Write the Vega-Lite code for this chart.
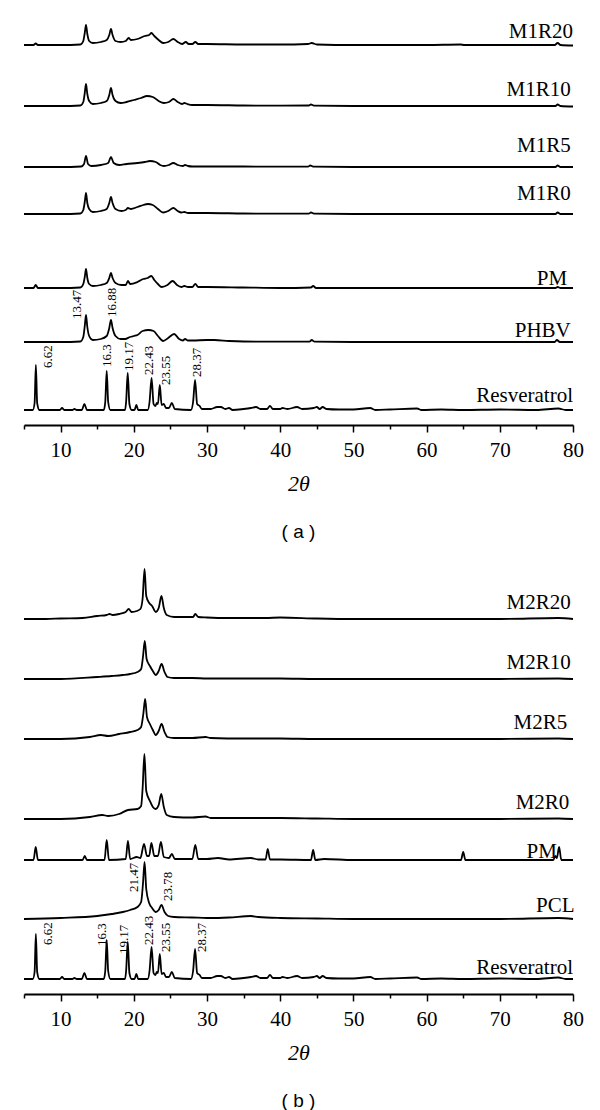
{
  "$schema": "https://vega.github.io/schema/vega-lite/v6.json",
  "padding": {"left": 20, "top": 10, "right": 10, "bottom": 5},
  "spacing": 17,
  "config": {
    "font": "Liberation Serif",
    "view": {"stroke": null},
    "axis": {"grid": false, "domainColor": "black", "tickColor": "black", "labelColor": "black", "titleColor": "black"}
  },
  "datasets": {
    "a": [
      {"s":"M1R20","x":5,"y":380},{"s":"M1R20","x":6.3,"y":380},{"s":"M1R20","x":6.6,"y":381.5},{"s":"M1R20","x":6.9,"y":380},{"s":"M1R20","x":10,"y":380},{"s":"M1R20","x":12.7,"y":380.5},{"s":"M1R20","x":13.1,"y":384},{"s":"M1R20","x":13.3,"y":392},{"s":"M1R20","x":13.47,"y":400},{"s":"M1R20","x":13.65,"y":391},{"s":"M1R20","x":13.9,"y":384},{"s":"M1R20","x":14.4,"y":382},{"s":"M1R20","x":15.5,"y":383},{"s":"M1R20","x":16.3,"y":385},{"s":"M1R20","x":16.65,"y":390},{"s":"M1R20","x":16.88,"y":396},{"s":"M1R20","x":17.1,"y":390},{"s":"M1R20","x":17.5,"y":384},{"s":"M1R20","x":18.2,"y":383},{"s":"M1R20","x":18.9,"y":384},{"s":"M1R20","x":19.3,"y":387},{"s":"M1R20","x":19.6,"y":385},{"s":"M1R20","x":20.5,"y":386},{"s":"M1R20","x":21.5,"y":389},{"s":"M1R20","x":22.1,"y":390},{"s":"M1R20","x":22.4,"y":392},{"s":"M1R20","x":22.8,"y":389},{"s":"M1R20","x":23.4,"y":385},{"s":"M1R20","x":24.0,"y":382},{"s":"M1R20","x":24.7,"y":383},{"s":"M1R20","x":25.4,"y":386},{"s":"M1R20","x":26.0,"y":383},{"s":"M1R20","x":26.6,"y":381},{"s":"M1R20","x":27.1,"y":383},{"s":"M1R20","x":27.5,"y":381},{"s":"M1R20","x":28.0,"y":381},{"s":"M1R20","x":28.4,"y":383},{"s":"M1R20","x":28.8,"y":381},{"s":"M1R20","x":30,"y":381},{"s":"M1R20","x":35,"y":380.5},{"s":"M1R20","x":40,"y":380.5},{"s":"M1R20","x":43.8,"y":381},{"s":"M1R20","x":44.3,"y":382},{"s":"M1R20","x":45,"y":380.5},{"s":"M1R20","x":50,"y":380},{"s":"M1R20","x":55,"y":380},{"s":"M1R20","x":60,"y":380},{"s":"M1R20","x":64.6,"y":380.5},{"s":"M1R20","x":65.2,"y":380},{"s":"M1R20","x":70,"y":380},{"s":"M1R20","x":77.5,"y":380},{"s":"M1R20","x":77.9,"y":382},{"s":"M1R20","x":78.3,"y":380},{"s":"M1R20","x":80,"y":379.5},

      {"s":"M1R10","x":5,"y":319},{"s":"M1R10","x":10,"y":319},{"s":"M1R10","x":12.7,"y":319.5},{"s":"M1R10","x":13.1,"y":323},{"s":"M1R10","x":13.3,"y":332},{"s":"M1R10","x":13.47,"y":341},{"s":"M1R10","x":13.65,"y":331},{"s":"M1R10","x":13.9,"y":324},{"s":"M1R10","x":14.4,"y":321},{"s":"M1R10","x":15.5,"y":322},{"s":"M1R10","x":16.3,"y":324},{"s":"M1R10","x":16.65,"y":330},{"s":"M1R10","x":16.88,"y":337},{"s":"M1R10","x":17.1,"y":330},{"s":"M1R10","x":17.5,"y":324},{"s":"M1R10","x":18.2,"y":322},{"s":"M1R10","x":19,"y":323},{"s":"M1R10","x":20,"y":325},{"s":"M1R10","x":21,"y":327},{"s":"M1R10","x":21.8,"y":329},{"s":"M1R10","x":22.6,"y":328},{"s":"M1R10","x":23.4,"y":324},{"s":"M1R10","x":24.1,"y":322},{"s":"M1R10","x":24.8,"y":323},{"s":"M1R10","x":25.4,"y":326},{"s":"M1R10","x":26.0,"y":323},{"s":"M1R10","x":26.6,"y":321},{"s":"M1R10","x":26.9,"y":322},{"s":"M1R10","x":27.3,"y":321},{"s":"M1R10","x":28,"y":320},{"s":"M1R10","x":30,"y":320},{"s":"M1R10","x":35,"y":319.5},{"s":"M1R10","x":40,"y":319.3},{"s":"M1R10","x":43.9,"y":319.5},{"s":"M1R10","x":44.2,"y":320.5},{"s":"M1R10","x":44.6,"y":319.3},{"s":"M1R10","x":50,"y":319},{"s":"M1R10","x":60,"y":319},{"s":"M1R10","x":70,"y":319},{"s":"M1R10","x":77.6,"y":319},{"s":"M1R10","x":77.9,"y":320.5},{"s":"M1R10","x":78.3,"y":319},{"s":"M1R10","x":80,"y":318.5},

      {"s":"M1R5","x":5,"y":258},{"s":"M1R5","x":10,"y":258},{"s":"M1R5","x":12.8,"y":258.5},{"s":"M1R5","x":13.2,"y":261},{"s":"M1R5","x":13.47,"y":269},{"s":"M1R5","x":13.75,"y":261},{"s":"M1R5","x":14.2,"y":259},{"s":"M1R5","x":15.5,"y":260},{"s":"M1R5","x":16.5,"y":262},{"s":"M1R5","x":16.88,"y":268},{"s":"M1R5","x":17.25,"y":262},{"s":"M1R5","x":18,"y":260},{"s":"M1R5","x":19,"y":261},{"s":"M1R5","x":20.5,"y":262},{"s":"M1R5","x":21.5,"y":263},{"s":"M1R5","x":22.2,"y":264},{"s":"M1R5","x":23,"y":263},{"s":"M1R5","x":23.6,"y":260},{"s":"M1R5","x":24.1,"y":259},{"s":"M1R5","x":24.8,"y":260},{"s":"M1R5","x":25.4,"y":262},{"s":"M1R5","x":26,"y":260},{"s":"M1R5","x":26.7,"y":259},{"s":"M1R5","x":27,"y":260},{"s":"M1R5","x":27.4,"y":259},{"s":"M1R5","x":28,"y":258.5},{"s":"M1R5","x":30,"y":258.5},{"s":"M1R5","x":35,"y":258.5},{"s":"M1R5","x":40,"y":258.3},{"s":"M1R5","x":43.8,"y":258.3},{"s":"M1R5","x":44.1,"y":259.5},{"s":"M1R5","x":44.5,"y":258.3},{"s":"M1R5","x":50,"y":258},{"s":"M1R5","x":60,"y":258},{"s":"M1R5","x":70,"y":258},{"s":"M1R5","x":77.6,"y":258},{"s":"M1R5","x":77.9,"y":259.5},{"s":"M1R5","x":78.3,"y":258},{"s":"M1R5","x":80,"y":258},

      {"s":"M1R0","x":5,"y":211},{"s":"M1R0","x":10,"y":211},{"s":"M1R0","x":12.7,"y":211.5},{"s":"M1R0","x":13.1,"y":215},{"s":"M1R0","x":13.3,"y":223},{"s":"M1R0","x":13.47,"y":232},{"s":"M1R0","x":13.65,"y":222},{"s":"M1R0","x":13.9,"y":216},{"s":"M1R0","x":14.4,"y":213},{"s":"M1R0","x":15.5,"y":214},{"s":"M1R0","x":16.3,"y":216},{"s":"M1R0","x":16.65,"y":222},{"s":"M1R0","x":16.88,"y":228},{"s":"M1R0","x":17.1,"y":222},{"s":"M1R0","x":17.5,"y":216},{"s":"M1R0","x":18.3,"y":214},{"s":"M1R0","x":18.9,"y":215},{"s":"M1R0","x":19.2,"y":217},{"s":"M1R0","x":19.6,"y":216},{"s":"M1R0","x":20.5,"y":218},{"s":"M1R0","x":21.3,"y":220},{"s":"M1R0","x":21.9,"y":221},{"s":"M1R0","x":22.6,"y":220},{"s":"M1R0","x":23.3,"y":216},{"s":"M1R0","x":24.0,"y":212.5},{"s":"M1R0","x":24.7,"y":214},{"s":"M1R0","x":25.4,"y":217},{"s":"M1R0","x":26,"y":214},{"s":"M1R0","x":26.5,"y":212.5},{"s":"M1R0","x":26.9,"y":213},{"s":"M1R0","x":27.4,"y":212},{"s":"M1R0","x":28,"y":212},{"s":"M1R0","x":30,"y":212},{"s":"M1R0","x":35,"y":211.5},{"s":"M1R0","x":40,"y":211.3},{"s":"M1R0","x":43.9,"y":211.3},{"s":"M1R0","x":44.2,"y":212.5},{"s":"M1R0","x":44.6,"y":211.3},{"s":"M1R0","x":50,"y":211},{"s":"M1R0","x":60,"y":211},{"s":"M1R0","x":70,"y":211},{"s":"M1R0","x":77.6,"y":211},{"s":"M1R0","x":77.9,"y":212.5},{"s":"M1R0","x":78.3,"y":211},{"s":"M1R0","x":80,"y":211},

      {"s":"PM","x":5,"y":137},{"s":"PM","x":6.3,"y":137},{"s":"PM","x":6.6,"y":140},{"s":"PM","x":6.9,"y":137},{"s":"PM","x":10,"y":137},{"s":"PM","x":12.7,"y":137.5},{"s":"PM","x":13.1,"y":141},{"s":"PM","x":13.3,"y":148},{"s":"PM","x":13.47,"y":156},{"s":"PM","x":13.65,"y":147},{"s":"PM","x":13.9,"y":141},{"s":"PM","x":14.4,"y":139},{"s":"PM","x":15.5,"y":140},{"s":"PM","x":16.3,"y":142},{"s":"PM","x":16.65,"y":147},{"s":"PM","x":16.88,"y":152},{"s":"PM","x":17.1,"y":147},{"s":"PM","x":17.5,"y":142},{"s":"PM","x":18.3,"y":140},{"s":"PM","x":18.9,"y":140},{"s":"PM","x":19.2,"y":144},{"s":"PM","x":19.5,"y":141},{"s":"PM","x":20.5,"y":143},{"s":"PM","x":21.3,"y":146},{"s":"PM","x":21.9,"y":147},{"s":"PM","x":22.4,"y":149},{"s":"PM","x":22.8,"y":145},{"s":"PM","x":23.3,"y":141},{"s":"PM","x":23.8,"y":138},{"s":"PM","x":24.6,"y":140},{"s":"PM","x":25.3,"y":144},{"s":"PM","x":25.9,"y":140},{"s":"PM","x":26.5,"y":138},{"s":"PM","x":26.9,"y":139},{"s":"PM","x":27.4,"y":138},{"s":"PM","x":28.0,"y":138},{"s":"PM","x":28.4,"y":141},{"s":"PM","x":28.8,"y":138},{"s":"PM","x":30,"y":138},{"s":"PM","x":35,"y":137.5},{"s":"PM","x":40,"y":137},{"s":"PM","x":44.2,"y":137.5},{"s":"PM","x":44.5,"y":139},{"s":"PM","x":44.9,"y":137},{"s":"PM","x":50,"y":137},{"s":"PM","x":60,"y":137},{"s":"PM","x":70,"y":137},{"s":"PM","x":77.6,"y":137},{"s":"PM","x":77.9,"y":138},{"s":"PM","x":78.3,"y":137},{"s":"PM","x":80,"y":137},

      {"s":"PHBV","x":5,"y":83},{"s":"PHBV","x":10,"y":83},{"s":"PHBV","x":12.7,"y":83.5},{"s":"PHBV","x":13.1,"y":88},{"s":"PHBV","x":13.3,"y":99},{"s":"PHBV","x":13.47,"y":110},{"s":"PHBV","x":13.65,"y":98},{"s":"PHBV","x":13.9,"y":89},{"s":"PHBV","x":14.4,"y":85},{"s":"PHBV","x":15.5,"y":86},{"s":"PHBV","x":16.3,"y":89},{"s":"PHBV","x":16.65,"y":97},{"s":"PHBV","x":16.88,"y":105},{"s":"PHBV","x":17.1,"y":97},{"s":"PHBV","x":17.5,"y":89},{"s":"PHBV","x":18.2,"y":86},{"s":"PHBV","x":18.8,"y":86},{"s":"PHBV","x":19.5,"y":88},{"s":"PHBV","x":20.0,"y":89},{"s":"PHBV","x":20.5,"y":90},{"s":"PHBV","x":21.2,"y":94},{"s":"PHBV","x":22,"y":95},{"s":"PHBV","x":22.7,"y":94},{"s":"PHBV","x":23.3,"y":89},{"s":"PHBV","x":24.0,"y":84},{"s":"PHBV","x":24.7,"y":87},{"s":"PHBV","x":25.5,"y":91},{"s":"PHBV","x":26.2,"y":86},{"s":"PHBV","x":26.7,"y":84.5},{"s":"PHBV","x":27,"y":86},{"s":"PHBV","x":27.4,"y":84.5},{"s":"PHBV","x":28,"y":84.5},{"s":"PHBV","x":30,"y":85},{"s":"PHBV","x":31,"y":85},{"s":"PHBV","x":33,"y":84},{"s":"PHBV","x":35,"y":83.5},{"s":"PHBV","x":40,"y":83.3},{"s":"PHBV","x":44,"y":83.3},{"s":"PHBV","x":44.3,"y":85},{"s":"PHBV","x":44.7,"y":83.3},{"s":"PHBV","x":50,"y":83},{"s":"PHBV","x":60,"y":83},{"s":"PHBV","x":70,"y":83},{"s":"PHBV","x":77.5,"y":83},{"s":"PHBV","x":77.8,"y":85},{"s":"PHBV","x":78.2,"y":83},{"s":"PHBV","x":80,"y":83}
    ],
    "b": [
      {"s":"M2R20","x":5,"y":375},{"s":"M2R20","x":8,"y":375},{"s":"M2R20","x":10,"y":375.5},{"s":"M2R20","x":13,"y":376},{"s":"M2R20","x":15,"y":378},{"s":"M2R20","x":16.3,"y":379},{"s":"M2R20","x":16.7,"y":380},{"s":"M2R20","x":17.1,"y":379},{"s":"M2R20","x":18,"y":380},{"s":"M2R20","x":18.9,"y":382},{"s":"M2R20","x":19.3,"y":385},{"s":"M2R20","x":19.7,"y":382},{"s":"M2R20","x":20.4,"y":383},{"s":"M2R20","x":20.9,"y":385},{"s":"M2R20","x":21.2,"y":395},{"s":"M2R20","x":21.47,"y":425},{"s":"M2R20","x":21.7,"y":398},{"s":"M2R20","x":22.1,"y":391},{"s":"M2R20","x":22.5,"y":388},{"s":"M2R20","x":23.0,"y":382},{"s":"M2R20","x":23.4,"y":386},{"s":"M2R20","x":23.78,"y":398},{"s":"M2R20","x":24.1,"y":386},{"s":"M2R20","x":24.5,"y":379},{"s":"M2R20","x":25.5,"y":377},{"s":"M2R20","x":27,"y":377},{"s":"M2R20","x":28.1,"y":377},{"s":"M2R20","x":28.4,"y":380},{"s":"M2R20","x":28.8,"y":377},{"s":"M2R20","x":30,"y":376.5},{"s":"M2R20","x":33,"y":376},{"s":"M2R20","x":38,"y":376},{"s":"M2R20","x":40,"y":376.5},{"s":"M2R20","x":45,"y":375.5},{"s":"M2R20","x":50,"y":375},{"s":"M2R20","x":60,"y":375},{"s":"M2R20","x":70,"y":375},{"s":"M2R20","x":78,"y":376},{"s":"M2R20","x":80,"y":375},

      {"s":"M2R10","x":5,"y":315},{"s":"M2R10","x":10,"y":315},{"s":"M2R10","x":15,"y":317},{"s":"M2R10","x":17,"y":318},{"s":"M2R10","x":18.5,"y":319},{"s":"M2R10","x":19.5,"y":320},{"s":"M2R10","x":20.5,"y":322},{"s":"M2R10","x":21.0,"y":325},{"s":"M2R10","x":21.25,"y":337},{"s":"M2R10","x":21.5,"y":353},{"s":"M2R10","x":21.75,"y":335},{"s":"M2R10","x":22.2,"y":328},{"s":"M2R10","x":22.6,"y":323},{"s":"M2R10","x":23.0,"y":319},{"s":"M2R10","x":23.4,"y":323},{"s":"M2R10","x":23.8,"y":330},{"s":"M2R10","x":24.2,"y":322},{"s":"M2R10","x":24.6,"y":317},{"s":"M2R10","x":25.5,"y":316},{"s":"M2R10","x":28,"y":316},{"s":"M2R10","x":30,"y":315.5},{"s":"M2R10","x":35,"y":315.5},{"s":"M2R10","x":40,"y":315.5},{"s":"M2R10","x":45,"y":315},{"s":"M2R10","x":60,"y":315},{"s":"M2R10","x":70,"y":315},{"s":"M2R10","x":78,"y":315.5},{"s":"M2R10","x":80,"y":315},

      {"s":"M2R5","x":5,"y":255},{"s":"M2R5","x":10,"y":255},{"s":"M2R5","x":14,"y":257},{"s":"M2R5","x":15.5,"y":259},{"s":"M2R5","x":16.5,"y":258},{"s":"M2R5","x":18,"y":260},{"s":"M2R5","x":19.5,"y":262},{"s":"M2R5","x":20.5,"y":264},{"s":"M2R5","x":21.0,"y":267},{"s":"M2R5","x":21.3,"y":280},{"s":"M2R5","x":21.55,"y":295},{"s":"M2R5","x":21.8,"y":277},{"s":"M2R5","x":22.2,"y":270},{"s":"M2R5","x":22.6,"y":264},{"s":"M2R5","x":23.0,"y":259},{"s":"M2R5","x":23.4,"y":263},{"s":"M2R5","x":23.8,"y":270},{"s":"M2R5","x":24.2,"y":262},{"s":"M2R5","x":24.6,"y":257},{"s":"M2R5","x":25.5,"y":256},{"s":"M2R5","x":28,"y":256},{"s":"M2R5","x":29.8,"y":257},{"s":"M2R5","x":30.5,"y":256},{"s":"M2R5","x":35,"y":255.5},{"s":"M2R5","x":40,"y":255.5},{"s":"M2R5","x":45,"y":255},{"s":"M2R5","x":60,"y":255},{"s":"M2R5","x":70,"y":255},{"s":"M2R5","x":78,"y":255.5},{"s":"M2R5","x":80,"y":255},

      {"s":"M2R0","x":5,"y":175},{"s":"M2R0","x":10,"y":175},{"s":"M2R0","x":14,"y":177},{"s":"M2R0","x":15.7,"y":179},{"s":"M2R0","x":16.5,"y":178},{"s":"M2R0","x":18,"y":180},{"s":"M2R0","x":19.2,"y":184},{"s":"M2R0","x":20.5,"y":185},{"s":"M2R0","x":21.0,"y":188},{"s":"M2R0","x":21.2,"y":205},{"s":"M2R0","x":21.45,"y":240},{"s":"M2R0","x":21.7,"y":203},{"s":"M2R0","x":22.2,"y":193},{"s":"M2R0","x":22.6,"y":187},{"s":"M2R0","x":23.0,"y":185},{"s":"M2R0","x":23.4,"y":189},{"s":"M2R0","x":23.75,"y":200},{"s":"M2R0","x":24.1,"y":187},{"s":"M2R0","x":24.5,"y":179},{"s":"M2R0","x":25.5,"y":177},{"s":"M2R0","x":28,"y":176.5},{"s":"M2R0","x":29.8,"y":177.5},{"s":"M2R0","x":30.5,"y":176},{"s":"M2R0","x":35,"y":176},{"s":"M2R0","x":40,"y":176},{"s":"M2R0","x":45,"y":175.5},{"s":"M2R0","x":50,"y":175},{"s":"M2R0","x":60,"y":175},{"s":"M2R0","x":70,"y":175},{"s":"M2R0","x":78,"y":175.5},{"s":"M2R0","x":80,"y":175},

      {"s":"PM","x":5,"y":134},{"s":"PM","x":6.3,"y":134},{"s":"PM","x":6.6,"y":147},{"s":"PM","x":6.9,"y":134},{"s":"PM","x":10,"y":134},{"s":"PM","x":13.0,"y":134},{"s":"PM","x":13.3,"y":138},{"s":"PM","x":13.6,"y":134},{"s":"PM","x":16.0,"y":134},{"s":"PM","x":16.3,"y":154},{"s":"PM","x":16.6,"y":134},{"s":"PM","x":18.9,"y":135},{"s":"PM","x":19.2,"y":153},{"s":"PM","x":19.5,"y":135},{"s":"PM","x":20.4,"y":137},{"s":"PM","x":20.9,"y":136},{"s":"PM","x":21.4,"y":150},{"s":"PM","x":21.8,"y":138},{"s":"PM","x":22.1,"y":138},{"s":"PM","x":22.4,"y":151},{"s":"PM","x":22.8,"y":138},{"s":"PM","x":23.3,"y":138},{"s":"PM","x":23.7,"y":152},{"s":"PM","x":24.1,"y":137},{"s":"PM","x":24.8,"y":136},{"s":"PM","x":25.2,"y":140},{"s":"PM","x":25.6,"y":135},{"s":"PM","x":28.0,"y":135},{"s":"PM","x":28.4,"y":149},{"s":"PM","x":28.8,"y":135},{"s":"PM","x":30,"y":135},{"s":"PM","x":31.5,"y":136},{"s":"PM","x":33,"y":134.5},{"s":"PM","x":36,"y":136},{"s":"PM","x":37,"y":134.5},{"s":"PM","x":38.0,"y":134.5},{"s":"PM","x":38.3,"y":145},{"s":"PM","x":38.6,"y":134.5},{"s":"PM","x":40,"y":134.5},{"s":"PM","x":44.2,"y":134},{"s":"PM","x":44.5,"y":144},{"s":"PM","x":44.8,"y":134},{"s":"PM","x":46,"y":135},{"s":"PM","x":50,"y":134},{"s":"PM","x":60,"y":134},{"s":"PM","x":64.7,"y":134},{"s":"PM","x":65,"y":142},{"s":"PM","x":65.3,"y":134},{"s":"PM","x":70,"y":134},{"s":"PM","x":77.3,"y":134},{"s":"PM","x":77.6,"y":138},{"s":"PM","x":77.8,"y":136},{"s":"PM","x":78.1,"y":147},{"s":"PM","x":78.4,"y":134},{"s":"PM","x":80,"y":134},

      {"s":"PCL","x":5,"y":75},{"s":"PCL","x":10,"y":76},{"s":"PCL","x":15,"y":78},{"s":"PCL","x":17,"y":80},{"s":"PCL","x":18.5,"y":82},{"s":"PCL","x":19.5,"y":84},{"s":"PCL","x":20.5,"y":87},{"s":"PCL","x":21.0,"y":92},{"s":"PCL","x":21.25,"y":110},{"s":"PCL","x":21.47,"y":132},{"s":"PCL","x":21.7,"y":105},{"s":"PCL","x":22.1,"y":91},{"s":"PCL","x":22.5,"y":86},{"s":"PCL","x":23.0,"y":82},{"s":"PCL","x":23.4,"y":84},{"s":"PCL","x":23.78,"y":89},{"s":"PCL","x":24.2,"y":82},{"s":"PCL","x":24.7,"y":78},{"s":"PCL","x":25.5,"y":77},{"s":"PCL","x":28,"y":76.5},{"s":"PCL","x":30,"y":76},{"s":"PCL","x":33,"y":76.5},{"s":"PCL","x":36,"y":78},{"s":"PCL","x":37,"y":77},{"s":"PCL","x":40,"y":76},{"s":"PCL","x":45,"y":75.5},{"s":"PCL","x":50,"y":75},{"s":"PCL","x":60,"y":75},{"s":"PCL","x":70,"y":75},{"s":"PCL","x":78,"y":76},{"s":"PCL","x":80,"y":75}
    ],
    "res": [
      {"x":5,"y":15},{"x":6.2,"y":15},{"x":6.45,"y":22},{"x":6.62,"y":60},{"x":6.8,"y":22},{"x":7.1,"y":15},{"x":9.9,"y":15},{"x":10.2,"y":17},{"x":10.5,"y":15},{"x":11.6,"y":15},{"x":11.9,"y":16},{"x":12.2,"y":15},{"x":12.9,"y":15},{"x":13.25,"y":21},{"x":13.6,"y":15},{"x":15.9,"y":15},{"x":16.1,"y":23},{"x":16.3,"y":54},{"x":16.5,"y":23},{"x":16.8,"y":15},{"x":18.8,"y":15},{"x":18.95,"y":23},{"x":19.17,"y":52},{"x":19.4,"y":21},{"x":19.7,"y":15},{"x":20.1,"y":15},{"x":20.35,"y":20},{"x":20.6,"y":15},{"x":21.9,"y":15},{"x":22.15,"y":23},{"x":22.43,"y":47},{"x":22.7,"y":21},{"x":22.95,"y":19},{"x":23.15,"y":22},{"x":23.3,"y":21},{"x":23.55,"y":40},{"x":23.8,"y":20},{"x":24.1,"y":21},{"x":24.4,"y":17},{"x":24.8,"y":17},{"x":25.2,"y":22},{"x":25.6,"y":16},{"x":27.8,"y":15},{"x":28.1,"y":23},{"x":28.37,"y":45},{"x":28.65,"y":21},{"x":29.0,"y":19},{"x":29.3,"y":16},{"x":30.5,"y":16},{"x":31.4,"y":18},{"x":31.9,"y":18},{"x":32.5,"y":16},{"x":33.0,"y":17},{"x":33.5,"y":15},{"x":35,"y":16},{"x":36,"y":17},{"x":36.7,"y":18},{"x":37.3,"y":16},{"x":38.2,"y":16},{"x":38.6,"y":19},{"x":39,"y":16},{"x":40,"y":16},{"x":40.3,"y":17},{"x":41,"y":16},{"x":42.3,"y":18},{"x":43,"y":16},{"x":44.6,"y":17},{"x":45,"y":18},{"x":45.4,"y":16},{"x":45.8,"y":18},{"x":46.3,"y":16},{"x":48,"y":15.5},{"x":50,"y":15.5},{"x":52.3,"y":17},{"x":53,"y":15},{"x":55,"y":15.5},{"x":58.7,"y":16.5},{"x":59.3,"y":15},{"x":62,"y":15.5},{"x":65,"y":15},{"x":70,"y":15.5},{"x":75,"y":15},{"x":78,"y":16.5},{"x":79,"y":15},{"x":80,"y":15}
    ],
    "la": [
      {"t":"M1R20","x":80,"y":387},{"t":"M1R10","x":79.7,"y":329},{"t":"M1R5","x":79.7,"y":273},{"t":"M1R0","x":79.7,"y":225},{"t":"PM","x":79.2,"y":140},{"t":"PHBV","x":79.7,"y":88},{"t":"Resveratrol","x":80,"y":23}
    ],
    "lb": [
      {"t":"M2R20","x":79.7,"y":385},{"t":"M2R10","x":79.7,"y":325},{"t":"M2R5","x":79.2,"y":265},{"t":"M2R0","x":79.5,"y":185},{"t":"PM","x":77.8,"y":136},{"t":"PCL","x":80.2,"y":82},{"t":"Resveratrol","x":80,"y":20}
    ],
    "pa": [
      {"t":"13.47","x":12.24,"y":106},{"t":"16.88","x":17.02,"y":108},{"t":"6.62","x":8.28,"y":57},{"t":"16.3","x":16.34,"y":58},{"t":"19.17","x":19.34,"y":54},{"t":"22.43","x":22.08,"y":50},{"t":"23.55","x":24.4,"y":40},{"t":"28.37","x":28.63,"y":48}
    ],
    "pb": [
      {"t":"21.47","x":20.03,"y":102},{"t":"23.78","x":24.67,"y":93},{"t":"6.62","x":8.28,"y":49},{"t":"16.3","x":15.66,"y":48},{"t":"19.17","x":18.66,"y":40},{"t":"22.43","x":22.08,"y":49},{"t":"23.55","x":24.4,"y":42},{"t":"28.37","x":29.32,"y":42}
    ]
  },
  "vconcat": [
    {
      "width": 549,
      "height": 415,
      "title": {"text": "( a )", "orient": "bottom", "font": "Liberation Sans", "fontSize": 19, "fontWeight": "normal", "color": "black", "offset": 29},
      "resolve": {"axis": {"x": "independent"}},
      "layer": [
        {
          "data": {"name": "a"},
          "mark": {"type": "line", "color": "black", "strokeWidth": 1.8, "interpolate": "monotone"},
          "encoding": {
            "x": {"field": "x", "type": "quantitative", "scale": {"domain": [5, 80], "nice": false, "zero": false},
                  "axis": {"orient": "bottom", "values": [10,20,30,40,50,60,70,80], "tickSize": 7, "tickWidth": 1.5, "domainWidth": 1.8, "labelFontSize": 21, "labelPadding": 7, "labelFlush": false, "title": "2θ", "titleFont": "Liberation Serif", "titleFontStyle": "italic", "titleFontWeight": "normal", "titleFontSize": 22, "titlePadding": 13}},
            "y": {"field": "y", "type": "quantitative", "scale": {"domain": [0, 415], "nice": false, "zero": false}, "axis": null},
            "detail": {"field": "s"}
          }
        },
        {
          "data": {"name": "res"},
          "mark": {"type": "line", "color": "black", "strokeWidth": 1.8, "interpolate": "monotone"},
          "encoding": {
            "x": {"field": "x", "type": "quantitative", "scale": {"domain": [5, 80], "nice": false, "zero": false},
                  "axis": {"orient": "bottom", "values": [5,15,25,35,45,55,65,75], "tickSize": 4, "tickWidth": 1.5, "labels": false, "domain": false, "title": null}},
            "y": {"field": "y", "type": "quantitative", "scale": {"domain": [0, 415], "nice": false, "zero": false}, "axis": null}
          }
        },
        {
          "data": {"name": "la"},
          "mark": {"type": "text", "align": "right", "baseline": "alphabetic", "fontSize": 21, "color": "black"},
          "encoding": {
            "x": {"field": "x", "type": "quantitative", "scale": {"domain": [5, 80], "nice": false, "zero": false}, "axis": null},
            "y": {"field": "y", "type": "quantitative", "scale": {"domain": [0, 415], "nice": false, "zero": false}, "axis": null},
            "text": {"field": "t"}
          }
        },
        {
          "data": {"name": "pa"},
          "mark": {"type": "text", "angle": 270, "align": "left", "baseline": "middle", "fontSize": 13, "color": "black"},
          "encoding": {
            "x": {"field": "x", "type": "quantitative", "scale": {"domain": [5, 80], "nice": false, "zero": false}, "axis": null},
            "y": {"field": "y", "type": "quantitative", "scale": {"domain": [0, 415], "nice": false, "zero": false}, "axis": null},
            "text": {"field": "t"}
          }
        }
      ]
    },
    {
      "width": 549,
      "height": 435,
      "title": {"text": "( b )", "orient": "bottom", "font": "Liberation Sans", "fontSize": 19, "fontWeight": "normal", "color": "black", "offset": 29},
      "resolve": {"axis": {"x": "independent"}},
      "layer": [
        {
          "data": {"name": "b"},
          "mark": {"type": "line", "color": "black", "strokeWidth": 1.8, "interpolate": "monotone"},
          "encoding": {
            "x": {"field": "x", "type": "quantitative", "scale": {"domain": [5, 80], "nice": false, "zero": false},
                  "axis": {"orient": "bottom", "values": [10,20,30,40,50,60,70,80], "tickSize": 7, "tickWidth": 1.5, "domainWidth": 1.8, "labelFontSize": 21, "labelPadding": 7, "labelFlush": false, "title": "2θ", "titleFont": "Liberation Serif", "titleFontStyle": "italic", "titleFontWeight": "normal", "titleFontSize": 22, "titlePadding": 13}},
            "y": {"field": "y", "type": "quantitative", "scale": {"domain": [0, 435], "nice": false, "zero": false}, "axis": null},
            "detail": {"field": "s"}
          }
        },
        {
          "data": {"name": "res"},
          "mark": {"type": "line", "color": "black", "strokeWidth": 1.8, "interpolate": "monotone"},
          "encoding": {
            "x": {"field": "x", "type": "quantitative", "scale": {"domain": [5, 80], "nice": false, "zero": false},
                  "axis": {"orient": "bottom", "values": [5,15,25,35,45,55,65,75], "tickSize": 4, "tickWidth": 1.5, "labels": false, "domain": false, "title": null}},
            "y": {"field": "y", "type": "quantitative", "scale": {"domain": [0, 435], "nice": false, "zero": false}, "axis": null}
          }
        },
        {
          "data": {"name": "lb"},
          "mark": {"type": "text", "align": "right", "baseline": "alphabetic", "fontSize": 21, "color": "black"},
          "encoding": {
            "x": {"field": "x", "type": "quantitative", "scale": {"domain": [5, 80], "nice": false, "zero": false}, "axis": null},
            "y": {"field": "y", "type": "quantitative", "scale": {"domain": [0, 435], "nice": false, "zero": false}, "axis": null},
            "text": {"field": "t"}
          }
        },
        {
          "data": {"name": "pb"},
          "mark": {"type": "text", "angle": 270, "align": "left", "baseline": "middle", "fontSize": 13, "color": "black"},
          "encoding": {
            "x": {"field": "x", "type": "quantitative", "scale": {"domain": [5, 80], "nice": false, "zero": false}, "axis": null},
            "y": {"field": "y", "type": "quantitative", "scale": {"domain": [0, 435], "nice": false, "zero": false}, "axis": null},
            "text": {"field": "t"}
          }
        }
      ]
    }
  ]
}
